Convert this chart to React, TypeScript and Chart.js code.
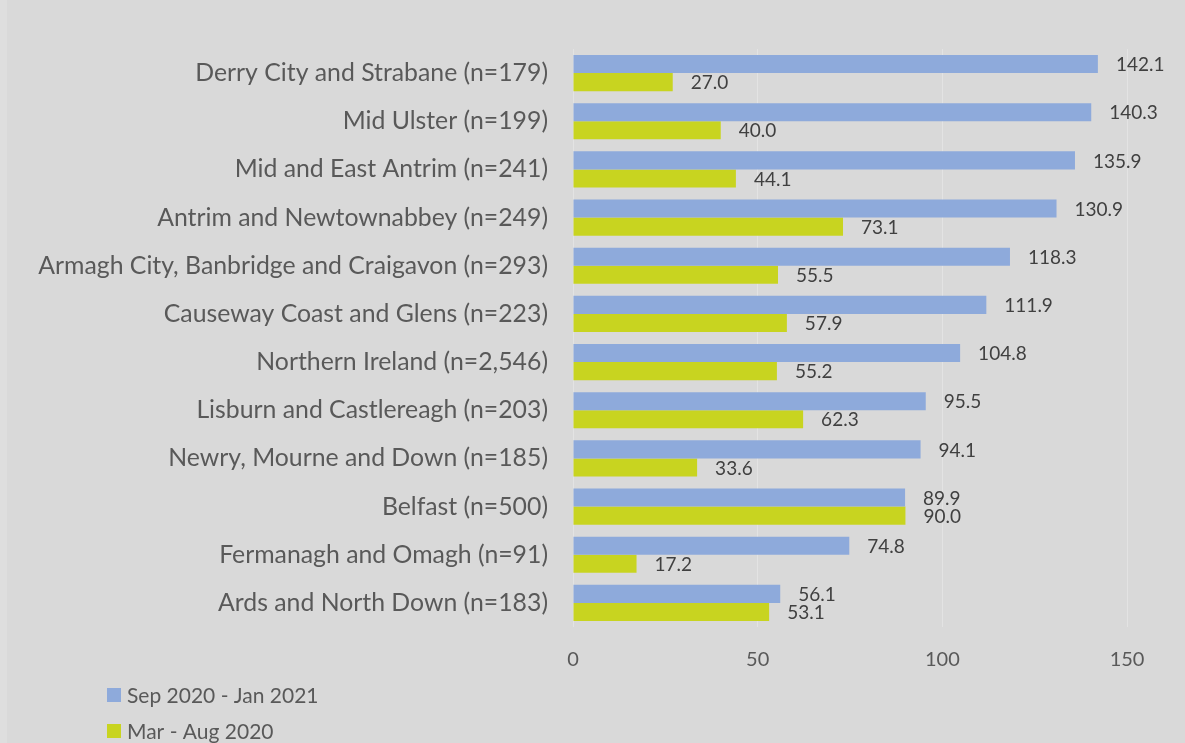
import React, { useEffect, useRef } from "react";
import { Chart, registerables } from "chart.js";

Chart.register(...registerables);

const categories = [
  "Derry City and Strabane (n=179)",
  "Mid Ulster (n=199)",
  "Mid and East Antrim (n=241)",
  "Antrim and Newtownabbey (n=249)",
  "Armagh City, Banbridge and Craigavon (n=293)",
  "Causeway Coast and Glens (n=223)",
  "Northern Ireland (n=2,546)",
  "Lisburn and Castlereagh (n=203)",
  "Newry, Mourne and Down (n=185)",
  "Belfast (n=500)",
  "Fermanagh and Omagh (n=91)",
  "Ards and North Down (n=183)",
];

const sepJan = [142.1, 140.3, 135.9, 130.9, 118.3, 111.9, 104.8, 95.5, 94.1, 89.9, 74.8, 56.1];
const marAug = [27.0, 40.0, 44.1, 73.1, 55.5, 57.9, 55.2, 62.3, 33.6, 90.0, 17.2, 53.1];

const seriesNames = ["Sep 2020 - Jan 2021", "Mar - Aug 2020"];
const xTicks = [0, 50, 100, 150];

const FONT = "Lato, 'Open Sans', sans-serif";
const BLUE = "#8eaadb";
const GREEN = "#c8d420";

const valueLabels = {
  id: "valueLabels",
  afterDatasetsDraw(chart: any) {
    const ctx = chart.ctx;
    ctx.save();
    ctx.font = `19px ${FONT}`;
    ctx.fillStyle = "#404040";
    ctx.textAlign = "left";
    ctx.textBaseline = "middle";
    chart.data.datasets.forEach((ds: any, di: number) => {
      const meta = chart.getDatasetMeta(di);
      meta.data.forEach((bar: any, i: number) => {
        const v = ds.data[i];
        ctx.fillText(v.toFixed(1), bar.x + 18, bar.y + 1);
      });
    });
    ctx.restore();
  },
};

const customLegend = {
  id: "customLegend",
  afterDraw(chart: any) {
    const ctx = chart.ctx;
    ctx.save();
    ctx.font = `21px ${FONT}`;
    ctx.textAlign = "left";
    ctx.textBaseline = "middle";
    chart.data.datasets.forEach((ds: any, i: number) => {
      const cy = 695 + i * 36;
      ctx.fillStyle = ds.backgroundColor;
      ctx.fillRect(107, cy - 7, 14, 14);
      ctx.fillStyle = "#595959";
      ctx.fillText(ds.label, 127, cy + 1);
    });
    ctx.restore();
  },
};

export default function App() {
  const ref = useRef<HTMLCanvasElement | null>(null);

  useEffect(() => {
    if (!ref.current) return;
    const chart = new Chart(ref.current, {
      type: "bar",
      data: {
        labels: categories,
        datasets: [
          {
            label: seriesNames[0],
            data: sepJan,
            backgroundColor: BLUE,
            categoryPercentage: 0.75,
            barPercentage: 1,
          },
          {
            label: seriesNames[1],
            data: marAug,
            backgroundColor: GREEN,
            categoryPercentage: 0.75,
            barPercentage: 1,
          },
        ],
      },
      options: {
        indexAxis: "y",
        responsive: false,
        animation: false,
        layout: { padding: { top: 49, right: 21, left: 0, bottom: 0 } },
        plugins: {
          legend: { display: false },
          tooltip: { enabled: false },
          title: { display: false },
        },
        scales: {
          x: {
            min: 0,
            max: 160,
            afterBuildTicks: (axis: any) => {
              axis.ticks = xTicks.map((v) => ({ value: v }));
            },
            afterFit: (scale: any) => {
              scale.height = 116;
            },
            grid: { color: "#e3e3e3", lineWidth: 1, drawTicks: false },
            border: { display: false },
            ticks: {
              padding: 21,
              color: "#595959",
              font: { family: FONT, size: 20 },
            },
          },
          y: {
            afterFit: (scale: any) => {
              scale.width = 573;
            },
            grid: { display: false, drawTicks: false },
            border: { display: false },
            ticks: {
              padding: 25,
              color: "#595959",
              font: { family: FONT, size: 24.8 },
              autoSkip: false,
            },
          },
        },
      },
      plugins: [valueLabels, customLegend],
    });
    return () => chart.destroy();
  }, []);

  return (
    <div
      style={{
        position: "fixed",
        left: 0,
        top: 0,
        width: 1185,
        height: 743,
        background: "#d9d9d9",
        overflow: "hidden",
      }}
    >
      <div
        style={{
          position: "absolute",
          left: 0,
          top: 0,
          width: 7,
          height: 743,
          background: "#dedede",
        }}
      />
      <canvas
        ref={ref}
        width={1185}
        height={743}
        style={{ position: "absolute", left: 0, top: 0, width: 1185, height: 743 }}
      />
    </div>
  );
}
